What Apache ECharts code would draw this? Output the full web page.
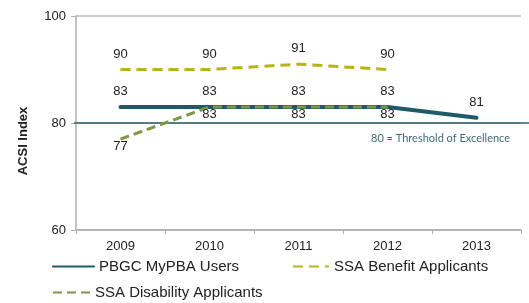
<!DOCTYPE html>
<html lang="en">
<head>
    <meta charset="UTF-8">
    <script src="https://cdn.jsdelivr.net/npm/echarts@6/dist/echarts.min.js"></script>
    <title>ACSI Index</title>
</head>
<body style="margin:0">
<div id="main" style="width: 529px;height: 303px"></div>
<script type="text/javascript">
    var years = ['2009', '2010', '2011', '2012', '2013'];
    var pbgc = [83, 83, 83, 83, 81];
    var ssaBenefit = [90, 90, 91, 90, '-'];
    var ssaDisability = [77, 83, 83, 83, '-'];
    var threshold = 80;

    var font = 'Liberation Sans, Arial, sans-serif';
    var myChart = echarts.init(document.getElementById('main'));

    // legend shows only the line, no marker
    var legendBase = {
        padding: 0, itemHeight: 14,
        itemStyle: {color: 'rgba(0,0,0,0)', borderWidth: 0},
        textStyle: {fontFamily: font, fontSize: 15, color: '#222'}
    };

    myChart.setOption({
        animation: false,
        title: {
            text: threshold + ' = Threshold of Excellence',
            left: 371, top: 133,
            padding: 0,
            textStyle: {fontFamily: 'Lato', fontSize: 11, fontWeight: 'normal', color: '#3f6c79'}
        },
        legend: [
            Object.assign({data: ['PBGC MyPBA Users'], left: 52, top: 259, itemWidth: 41, itemGap: 7}, legendBase),
            Object.assign({data: ['SSA Benefit Applicants'], left: 292, top: 259, itemWidth: 36}, legendBase),
            Object.assign({data: ['SSA Disability Applicants'], left: 52, top: 285, itemWidth: 37}, legendBase)
        ],
        grid: [
            {left: 76, right: 8, top: 16, bottom: 73},
            {left: 74, right: 0, top: 16, bottom: 73}
        ],
        xAxis: [{
            type: 'category',
            data: years,
            boundaryGap: true,
            axisLine: {lineStyle: {color: '#b0b0b0', width: 1.5}},
            axisTick: {show: true, length: 4, lineStyle: {color: '#b0b0b0'}},
            axisLabel: {fontFamily: font, fontSize: 13, color: '#222', margin: 10}
        }, {
            gridIndex: 1, type: 'value', min: 0, max: 1, show: false
        }],
        yAxis: [{
            type: 'value',
            min: 60, max: 100, interval: 20,
            name: 'ACSI Index',
            nameLocation: 'middle',
            nameRotate: 90,
            nameGap: 46,
            nameTextStyle: {fontFamily: font, fontSize: 13, fontWeight: 'bold', color: '#222', padding: [0, 36, 0, 0]},
            axisLine: {show: true, lineStyle: {color: '#b0b0b0', width: 1.5}},
            axisTick: {show: true, length: 5, lineStyle: {color: '#b0b0b0'}},
            axisLabel: {fontFamily: font, fontSize: 13, color: '#222', margin: 10},
            splitLine: {show: true, lineStyle: {color: '#b8b8b8', width: 1.5}}
        }, {
            gridIndex: 1, type: 'value', min: 60, max: 100, show: false
        }],
        series: [
            {
                name: 'threshold',
                type: 'line',
                xAxisIndex: 1, yAxisIndex: 1,
                data: [[0, threshold], [1, threshold]],
                symbol: 'none',
                silent: true,
                z: 1,
                lineStyle: {color: '#2c6070', width: 1.5}
            },
            {
                name: 'PBGC MyPBA Users',
                type: 'line',
                data: pbgc,
                symbol: 'circle', symbolSize: 0,
                z: 3,
                itemStyle: {color: '#1f5a69'},
                lineStyle: {color: '#1f5a69', width: 4, cap: 'round'},
                label: {show: true, position: 'top', distance: 9, fontFamily: font, fontSize: 13, color: '#222'}
            },
            {
                name: 'SSA Benefit Applicants',
                type: 'line',
                data: ssaBenefit,
                symbol: 'circle', symbolSize: 0,
                z: 4,
                itemStyle: {color: '#b8b41c'},
                lineStyle: {color: '#b8b41c', width: 3, type: [10, 6]},
                label: {show: true, position: 'top', distance: 9, fontFamily: font, fontSize: 13, color: '#222'}
            },
            {
                name: 'SSA Disability Applicants',
                type: 'line',
                data: ssaDisability,
                symbol: 'circle', symbolSize: 0,
                z: 5,
                itemStyle: {color: '#7b9845'},
                lineStyle: {color: '#7b9845', width: 3, type: [9, 5]},
                label: {show: true, position: 'bottom', distance: 1, fontFamily: font, fontSize: 13, color: '#222'}
            }
        ]
    });
</script>
</body>
</html>
